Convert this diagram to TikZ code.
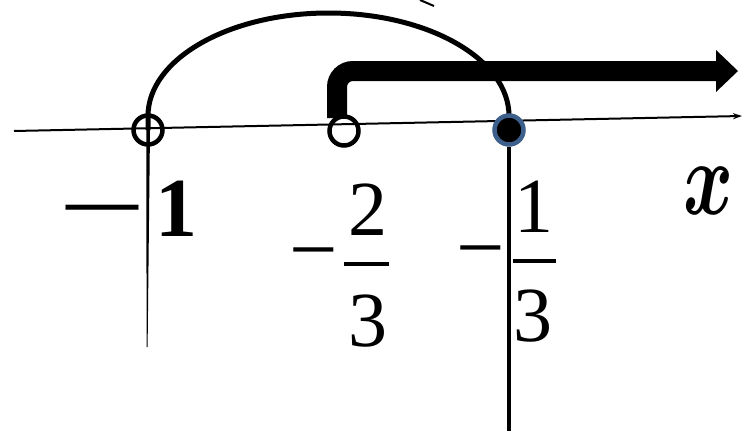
\documentclass[tikz,border=0pt]{standalone}
\usepackage{fontspec}
\setmainfont{Liberation Serif}
\usetikzlibrary{arrows.meta}
\definecolor{ringblue}{RGB}{60,95,140}
\begin{document}
\begin{tikzpicture}[x=1pt,y=-1pt,
  opencirc/.style={circle,draw=black,line width=4.5pt,minimum size=29pt,inner sep=0pt},
  fullcirc/.style={circle,draw=ringblue,line width=4.5pt,fill=black,minimum size=29pt,inner sep=0pt},
  lbl/.style={inner sep=0pt,anchor=center},
  big/.style={lbl,font=\fontsize{78}{78}\selectfont},
  dashlbl/.style={lbl,font=\fontsize{72}{72}\selectfont\bfseries},
  minuslbl/.style={lbl,font=\fontsize{86}{86}\selectfont},
  axisline/.style={line width=2pt,-{Stealth[length=9pt,width=6pt]}},
  curve/.style={line width=5pt},
  bar/.style={line width=4pt}
]
\useasboundingbox (0,0) rectangle (749,431);
% axis
\coordinate (axl) at (14,131);
\coordinate (axr) at (742,116);
\draw[axisline] (axl) -- (axr);
% points
\node[opencirc] (pa) at (148,130) {};
\node[opencirc] (pb) at (344,131) {};
% thin vertical lines
\coordinate (la) at (147,347);
\fill (146.3,130) -- (150,130) -- (147.6,347) -- (146.6,347) -- cycle;
\coordinate (rb) at (509,431);
% arc
\draw[curve] (pa.center) -- (148,116) arc[start angle=180,end angle=0,x radius=180.5pt,y radius=103pt];
% thick arrow
\coordinate (ts) at (337,118);
\coordinate (tc) at (337,71);
\coordinate (te) at (717,71);
\draw[line width=20pt,rounded corners=16pt] (ts) -- (tc) -- (te);
\fill (716,50) -- (738,71) -- (716,92) -- cycle;
\node[fullcirc] (pc) at (509,130) {};
\draw[line width=3.5pt] (pc.south) -- (rb);
% fragment at top
\draw[line width=2pt] (420,0) -- (434,6);
% labels
\node[dashlbl] (m1) at (102,215) {—};
\node[lbl,font=\fontsize{84}{84}\selectfont\bfseries] (o1) at (176,209) {1};
\node[minuslbl] (m2) at (314,263) {−};
\node[big] (n2) at (368,210) {2};
\node[big] (d2) at (368,321) {3};
\draw[bar] (344,264) -- (389,264);
\node[minuslbl] (m3) at (481,261) {−};
\node[big] (n3) at (534,207) {1};
\node[big] (d3) at (533,316) {3};
\draw[bar] (513,261) -- (556,261);
\node[lbl] (xl) at (709,191) {\scalebox{7.6}[10.6]{\boldmath$x$}};
\end{tikzpicture}
\end{document}
